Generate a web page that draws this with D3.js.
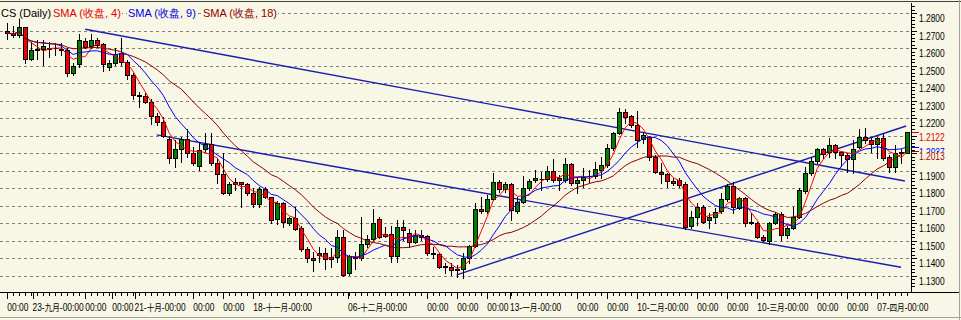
<!DOCTYPE html>
<html><head><meta charset="utf-8">
<script src="https://cdn.jsdelivr.net/npm/d3@7"></script>
<style>
html,body{margin:0;padding:0;background:#F8F7E5;}
svg{display:block;}
</style></head><body>
<svg id="c" width="961" height="320"></svg>
<script>
// ---------- data ----------
const opens = [1.2699,1.2689,1.2676,1.2720,1.2537,1.2596,1.2596,1.2600,1.2600,1.2598,
1.2590,1.2461,1.2510,1.2644,1.2613,1.2647,1.2625,1.2491,1.2514,1.2575,
1.2520,1.2447,1.2333,1.2327,1.2291,1.2213,1.2177,1.2080,1.1971,1.2022,
1.2080,1.2000,1.1927,1.2024,1.2053,1.1943,1.1882,1.1771,1.1834,1.1834,
1.1823,1.1771,1.1710,1.1796,1.1748,1.1623,1.1714,1.1600,1.1628,1.1571,
1.1451,1.1404,1.1428,1.1432,1.1406,1.1406,1.1524,1.1318,1.1406,1.1400,
1.1480,1.1508,1.1623,1.1537,1.1537,1.1415,1.1581,1.1543,1.1495,1.1533,
1.1527,1.1430,1.1425,1.1354,1.1352,1.1339,1.1337,1.1404,1.1470,1.1680,
1.1672,1.1737,1.1838,1.1796,1.1823,1.1672,1.1720,1.1800,1.1847,1.1855,
1.1851,1.1901,1.1861,1.1847,1.1937,1.1828,1.1847,1.1868,1.1870,1.1905,
1.1933,1.2028,1.2114,1.2238,1.2213,1.2162,1.2080,1.2091,1.1981,1.1893,
1.1882,1.1842,1.1847,1.1823,1.1585,1.1638,1.1695,1.1619,1.1638,1.1672,
1.1737,1.1813,1.1686,1.1743,1.1606,1.1604,1.1520,1.1501,1.1600,1.1651,
1.1533,1.1575,1.1638,1.1786,1.1886,1.1956,1.2023,1.2009,1.2047,1.2009,
1.1990,1.1965,1.2038,1.2095,1.2076,1.2053,1.2086,1.1977,1.1924,1.2006,
1.2004];
const highs = [1.2743,1.2727,1.2777,1.2724,1.2638,1.2647,1.2647,1.2638,1.2628,1.2628,
1.2600,1.2514,1.2682,1.2657,1.2682,1.2657,1.2632,1.2533,1.2600,1.2657,
1.2533,1.2457,1.2352,1.2343,1.2308,1.2228,1.2209,1.2091,1.2076,1.2095,
1.2137,1.2038,1.2066,1.2114,1.2118,1.1965,1.2004,1.1838,1.1857,1.1838,
1.1832,1.1800,1.1809,1.1809,1.1752,1.1727,1.1724,1.1638,1.1695,1.1585,
1.1466,1.1438,1.1466,1.1457,1.1457,1.1562,1.1562,1.1419,1.1438,1.1638,
1.1533,1.1680,1.1634,1.1581,1.1585,1.1619,1.1619,1.1566,1.1562,1.1562,
1.1533,1.1466,1.1428,1.1371,1.1371,1.1362,1.1428,1.1476,1.1714,1.1752,
1.1762,1.1886,1.1847,1.1838,1.1828,1.1752,1.1870,1.1851,1.1905,1.1895,
1.1927,1.1965,1.1876,1.1971,1.1943,1.1866,1.1914,1.1905,1.1952,1.1981,
1.2051,1.2124,1.2257,1.2251,1.2219,1.2242,1.2124,1.2099,1.1990,1.1943,
1.1886,1.1857,1.1857,1.1838,1.1672,1.1718,1.1705,1.1657,1.1686,1.1775,
1.1823,1.1838,1.1752,1.1752,1.1657,1.1609,1.1533,1.1609,1.1667,1.1667,
1.1585,1.1695,1.1804,1.1920,1.1981,1.2028,1.2028,1.2086,1.2053,1.2015,
1.2000,1.2076,1.2137,1.2143,1.2086,1.2095,1.2114,1.1990,1.2047,1.2023,
1.2124];
const lows = [1.2651,1.2666,1.2666,1.2514,1.2533,1.2537,1.2505,1.2552,1.2562,1.2562,
1.2442,1.2447,1.2495,1.2600,1.2600,1.2609,1.2470,1.2476,1.2505,1.2505,
1.2423,1.2308,1.2266,1.2286,1.2167,1.2162,1.2095,1.1943,1.1924,1.1952,
1.1981,1.1933,1.1905,1.2009,1.1933,1.1832,1.1767,1.1762,1.1790,1.1695,
1.1762,1.1691,1.1695,1.1743,1.1604,1.1596,1.1577,1.1590,1.1562,1.1444,
1.1381,1.1329,1.1381,1.1337,1.1348,1.1381,1.1299,1.1303,1.1337,1.1390,
1.1466,1.1505,1.1514,1.1520,1.1381,1.1381,1.1505,1.1466,1.1489,1.1505,
1.1419,1.1400,1.1343,1.1314,1.1305,1.1295,1.1286,1.1371,1.1466,1.1657,
1.1657,1.1733,1.1781,1.1781,1.1619,1.1657,1.1714,1.1790,1.1838,1.1790,
1.1844,1.1838,1.1790,1.1838,1.1819,1.1771,1.1809,1.1838,1.1857,1.1857,
1.1924,1.2019,1.2110,1.2171,1.2152,1.2038,1.2057,1.1962,1.1886,1.1828,
1.1806,1.1819,1.1809,1.1566,1.1571,1.1590,1.1600,1.1571,1.1600,1.1657,
1.1729,1.1657,1.1680,1.1585,1.1596,1.1514,1.1501,1.1482,1.1596,1.1505,
1.1514,1.1566,1.1628,1.1771,1.1876,1.1943,1.1971,1.1981,1.1971,1.1927,
1.1895,1.1886,1.2028,1.2057,1.2009,1.1971,1.1962,1.1895,1.1895,1.1943,
1.2000];
const closes = [1.2686,1.2678,1.2720,1.2537,1.2590,1.2590,1.2615,1.2598,1.2602,1.2592,
1.2457,1.2499,1.2647,1.2609,1.2647,1.2619,1.2508,1.2518,1.2566,1.2520,
1.2447,1.2333,1.2327,1.2295,1.2213,1.2177,1.2099,1.1971,1.2022,1.2080,
1.2000,1.1946,1.2019,1.2051,1.1943,1.1882,1.1771,1.1823,1.1823,1.1823,
1.1771,1.1710,1.1796,1.1748,1.1619,1.1714,1.1609,1.1628,1.1569,1.1451,
1.1400,1.1390,1.1421,1.1394,1.1396,1.1524,1.1303,1.1413,1.1402,1.1480,
1.1508,1.1600,1.1524,1.1527,1.1415,1.1581,1.1562,1.1495,1.1533,1.1524,
1.1428,1.1426,1.1352,1.1350,1.1333,1.1335,1.1404,1.1470,1.1680,1.1670,
1.1737,1.1838,1.1794,1.1825,1.1676,1.1724,1.1800,1.1842,1.1857,1.1851,
1.1901,1.1847,1.1847,1.1937,1.1832,1.1847,1.1863,1.1872,1.1908,1.1933,
1.2028,1.2114,1.2238,1.2209,1.2162,1.2076,1.2105,1.1981,1.1891,1.1882,
1.1842,1.1828,1.1819,1.1581,1.1638,1.1695,1.1609,1.1638,1.1666,1.1737,
1.1813,1.1691,1.1743,1.1604,1.1602,1.1520,1.1505,1.1600,1.1651,1.1533,
1.1575,1.1634,1.1790,1.1886,1.1956,1.2023,1.1996,1.2047,1.2009,1.1990,
1.1965,1.2023,1.2095,1.2076,1.2053,1.2086,1.1971,1.1924,1.2004,1.2000,
1.2122];

const smaPeriods = [4, 9, 18];
const legendTitle = "CS (Daily)";
const legendLabels = ["SMA (收盘, 4)", "SMA (收盘, 9)", "SMA (收盘, 18)"];

const priceTicks = [1.28,1.27,1.26,1.25,1.24,1.23,1.22,1.19,1.18,1.17,1.16,1.15,1.14,1.13];

const timeLabels = ["00:00","23-九月-00:00","00:00","00:00","21-十月-00:00","00:00","00:00",
"18-十一月-00:00","06-十二月-00:00","00:00","00:00","00:00","13-一月-00:00","00:00","00:00",
"10-二月-00:00","00:00","00:00","10-三月-00:00","00:00","00:00","07-四月-00:00"];
const timeLabelBars = [0,4.2,13,17.5,21.2,31,36,41,56.8,70,75,80,83.8,95,100,105,115,120,125,135,140,145];

// drawn trend lines (bar index, price)
const trendStartBar = [13, 24.9, 74.9];
const trendStartPrice = [1.2709, 1.2105, 1.1305];
const trendEndBar = [149.6, 148.95, 149.8];
const trendEndPrice = [1.1842, 1.1349, 1.2156];

// ---------- drawing ----------
const W = 961, H = 320;
const plotL = 0, plotR = 911, plotT = 3, plotB = 291;
const bg = "#F8F7E5";
const axisFont = "'Liberation Sans', Arial, sans-serif";
const narrow = 0.8;
const svg = d3.select("#c");
svg.append("rect").attr("width",W).attr("height",H).attr("fill",bg);

const n = closes.length;
const x = d3.scaleLinear().domain([0, n-1]).range([7.3, 907.3]);
const y = d3.scaleLinear().domain([1.13, 1.28]).range([275.8, 13.3]);

const defs = svg.append("defs");
defs.append("clipPath").attr("id","plot").append("rect")
  .attr("x",plotL).attr("y",plotT).attr("width",plotR-plotL).attr("height",plotB-plotT);

const plot = svg.append("g").attr("clip-path","url(#plot)");

// grid (horizontal dashed)
const gridLevels = d3.range(0,16).map(k => +(1.13 + k*0.01).toFixed(2));
plot.selectAll("line.grid").data(gridLevels).join("line")
  .attr("x1",plotL).attr("x2",plotR)
  .attr("y1",d=>Math.round(y(d))+0.5).attr("y2",d=>Math.round(y(d))+0.5)
  .attr("stroke","#808080").attr("stroke-width",1).attr("stroke-dasharray","3,3");

// legend
const legendColors = ["#000000","#E00000","#0000E0","#900000"];
const legendItems = [legendTitle].concat(legendLabels);
const legendX = [1, 53, 128, 203];
const lg = svg.append("g").attr("font-family","'Liberation Sans', Arial, sans-serif").attr("font-size","11px");
legendItems.forEach((t,k)=>{
  const tx = lg.append("text").attr("x",legendX[k]).attr("y",16.5).attr("fill",legendColors[k]).text(t);
  const bb = tx.node().getBBox();
  lg.insert("rect","text").attr("x",bb.x-1).attr("y",bb.y).attr("width",bb.width+2).attr("height",bb.height).attr("fill",bg);
});

// SMA
function sma(p){
  return closes.map((c,i)=>{
    const s = Math.max(0,i-p+1);
    return d3.mean(closes.slice(s,i+1));
  });
}
const smaColors = ["#FF0000","#0000FF","#8B0000"];
const smaVals = smaPeriods.map(sma);

// trend lines
plot.selectAll("line.trend").data(trendStartBar).join("line")
  .attr("x1",(d,k)=>x(trendStartBar[k])).attr("y1",(d,k)=>y(trendStartPrice[k]))
  .attr("x2",(d,k)=>x(trendEndBar[k])).attr("y2",(d,k)=>y(trendEndPrice[k]))
  .attr("stroke","#1C1CB0").attr("stroke-width",1.4);

// candles
const cg = plot.append("g");
for(let i=0;i<n;i++){
  const cx = Math.round(x(i))+0.5;
  cg.append("line").attr("x1",cx).attr("x2",cx)
    .attr("y1",Math.round(y(highs[i]))).attr("y2",Math.round(y(lows[i]))+1)
    .attr("stroke","#000").attr("stroke-width",1);
  const yo = Math.round(y(opens[i])), yc = Math.round(y(closes[i]));
  const top = Math.min(yo,yc), bot = Math.max(yo,yc);
  if (bot-top < 1) {
    cg.append("line").attr("x1",cx-2).attr("x2",cx+3).attr("y1",top+0.5).attr("y2",top+0.5)
      .attr("stroke","#000");
  } else {
    cg.append("rect").attr("x",cx-2).attr("y",top+0.5).attr("width",4).attr("height",bot-top)
      .attr("fill", closes[i]>=opens[i] ? "#008000" : "#F00000")
      .attr("stroke","#000").attr("stroke-width",1);
  }
}

// SMA lines over candles
smaVals.forEach((vals,k)=>{
  plot.append("path").datum(vals)
    .attr("d", d3.line().x((d,i)=>x(i)).y(d=>y(d)))
    .attr("fill","none").attr("stroke",smaColors[k]).attr("stroke-width",1);
});

// frame
svg.append("line").attr("x1",0).attr("x2",W).attr("y1",1.5).attr("y2",1.5).attr("stroke","#404040");
svg.append("line").attr("x1",plotR+0.5).attr("x2",plotR+0.5).attr("y1",plotT).attr("y2",plotB+1).attr("stroke","#000").attr("stroke-width",1);
svg.append("line").attr("x1",0).attr("x2",W-2).attr("y1",plotB+1.5).attr("y2",plotB+1.5).attr("stroke","#000").attr("stroke-width",1);
svg.append("line").attr("x1",W-1.5).attr("x2",W-1.5).attr("y1",0).attr("y2",H).attr("stroke","#a0a0a0");
svg.append("line").attr("x1",0).attr("x2",W).attr("y1",H-2.5).attr("y2",H-2.5).attr("stroke","#a0a0a0");

// helper: horizontally condensed axis text
function axisText(g, xx, yy, str, color){
  return g.append("text").attr("transform",`translate(${xx},${yy}) scale(${narrow},1)`)
    .attr("fill",color).text(str);
}

// right price axis
const ax = svg.append("g").attr("font-family",axisFont).attr("font-size","10.5px");
const minor = d3.range(0,82).map(k=>1.124 + k*0.002).filter(v=>y(v)>plotT && y(v)<plotB);
ax.selectAll("line.mt").data(minor).join("line")
  .attr("x1",plotR+1).attr("x2",plotR+4)
  .attr("y1",d=>Math.round(y(d))+0.5).attr("y2",d=>Math.round(y(d))+0.5).attr("stroke","#000");
ax.selectAll("line.Mt").data(gridLevels).join("line")
  .attr("x1",plotR+1).attr("x2",plotR+6)
  .attr("y1",d=>Math.round(y(d))+0.5).attr("y2",d=>Math.round(y(d))+0.5).attr("stroke","#000");
priceTicks.forEach(p => axisText(ax, 919, y(p)+9, p.toFixed(4), "#000"));

// value labels for last bar
const lastClose = closes[n-1];
function valueLabel(v,color){
  const yy = Math.round(y(v))+0.5;
  ax.append("line").attr("x1",plotR+1).attr("x2",plotR+8).attr("y1",yy).attr("y2",yy).attr("stroke",color);
  ax.append("rect").attr("x",917).attr("y",yy+1).attr("width",38).attr("height",10).attr("fill",bg);
  axisText(ax, 919, y(v)+9, v.toFixed(4), color);
}
valueLabel(smaVals[1][n-1], "#0000FF");
valueLabel(smaVals[2][n-1], "#A00000");
valueLabel(lastClose, "#E00000");

// bottom time axis
const tg = svg.append("g").attr("font-family",axisFont).attr("font-size","10.5px");
for(let i=0;i<n;i++){
  const cx = Math.round(x(i))+0.5;
  tg.append("line").attr("x1",cx).attr("x2",cx).attr("y1",plotB+2).attr("y2",plotB+5).attr("stroke","#000");
}
timeLabelBars.forEach((b,k)=>{
  const cx = Math.round(x(b))+0.5;
  const t = timeLabels[k];
  tg.append("line").attr("x1",cx).attr("x2",cx).attr("y1",plotB+2).attr("y2",plotB+8).attr("stroke","#000");
  const tx = axisText(tg, x(b), 311, "", "#000");
  const runs = t.match(/[\u4e00-\u9fff]+|[^\u4e00-\u9fff]+/g);
  runs.forEach(r=>{
    const ts = tx.append("tspan").text(r);
    if (/[\u4e00-\u9fff]/.test(r)) ts.attr("font-size","9.5px").attr("font-family","'Noto Sans CJK SC', sans-serif");
  });
});
</script>
</body></html>
